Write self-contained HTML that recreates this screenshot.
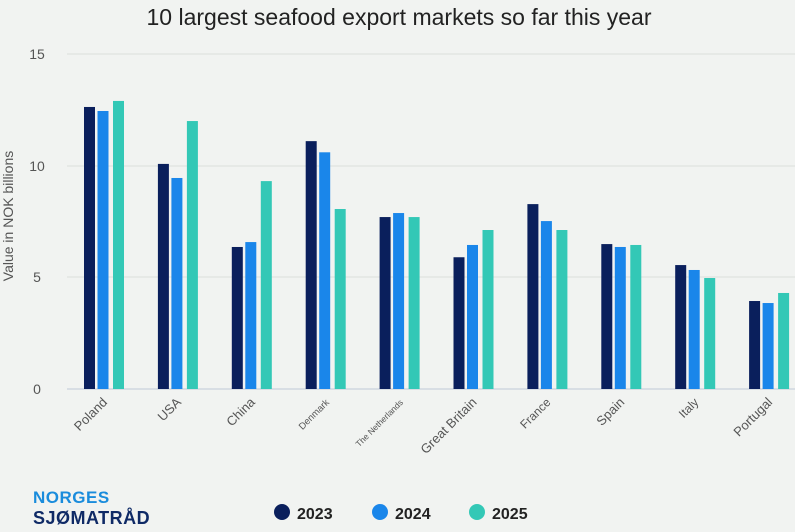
<!DOCTYPE html>
<html><head><style>
body{margin:0;background:#f1f3f1;}
svg{display:block;font-family:"Liberation Sans",sans-serif;}
</style></head><body>
<svg width="795" height="532" viewBox="0 0 795 532">
<rect width="795" height="532" fill="#f1f3f1"/>
<text x="399" y="25" text-anchor="middle" font-size="23" fill="#222">10 largest seafood export markets so far this year</text>
<g stroke="#dcdfdc" stroke-width="1">
<line x1="67" x2="795" y1="54" y2="54"/>
<line x1="67" x2="795" y1="166" y2="166"/>
<line x1="67" x2="795" y1="277" y2="277"/>
</g>
<line x1="67" x2="795" y1="389" y2="389" stroke="#bfc8d8"/>
<g font-size="14" fill="#555" text-anchor="middle">
<text x="37" y="59">15</text><text x="37" y="171">10</text><text x="37" y="282">5</text><text x="37" y="394">0</text>
</g>
<text transform="translate(13,216) rotate(-90)" text-anchor="middle" font-size="14" fill="#555">Value in NOK billions</text>
<g id="bars"></g>
<g id="labels" fill="#555"></g>
<text x="33" y="503" font-size="17" font-weight="bold" fill="#1a8cdc" letter-spacing="0.5">NORGES</text>
<text x="33" y="524" font-size="18" font-weight="bold" fill="#0f2a66" letter-spacing="0.5">SJØMATRÅD</text>
<circle cx="282" cy="512" r="8" fill="#0a1f5c"/><text x="297" y="519" font-size="16" font-weight="bold" fill="#222">2023</text>
<circle cx="380" cy="512" r="8" fill="#1a86ea"/><text x="395" y="519" font-size="16" font-weight="bold" fill="#222">2024</text>
<circle cx="477" cy="512" r="8" fill="#33c8b6"/><text x="492" y="519" font-size="16" font-weight="bold" fill="#222">2025</text>
</svg>
<script>
var d=[["Poland",12.63,12.45,12.9,13],["USA",10.08,9.45,12.0,13],["China",6.36,6.58,9.31,13],["Denmark",11.1,10.6,8.06,9.5],["The Netherlands",7.7,7.88,7.7,8.5],["Great Britain",5.9,6.45,7.12,13],["France",8.28,7.52,7.12,12],["Spain",6.49,6.36,6.45,13],["Italy",5.55,5.33,4.97,12],["Portugal",3.94,3.85,4.3,13]];
var c=["#0a1f5c","#1a86ea","#33c8b6"],offs=[0,13.5,29];
var b="",l="";
d.forEach(function(r,i){var x0=84+i*73.9;
for(var k=0;k<3;k++){var y=389-r[k+1]*22.33;b+='<rect x="'+(x0+offs[k])+'" y="'+y+'" width="11" height="'+(389-y)+'" fill="'+c[k]+'"/>';}
var cx=x0+24;l+='<text font-size="'+r[4]+'" text-anchor="end" transform="translate('+cx+',403) rotate(-45)">'+r[0]+'</text>';});
document.getElementById("bars").innerHTML=b;document.getElementById("labels").innerHTML=l;
</script>
</body></html>
